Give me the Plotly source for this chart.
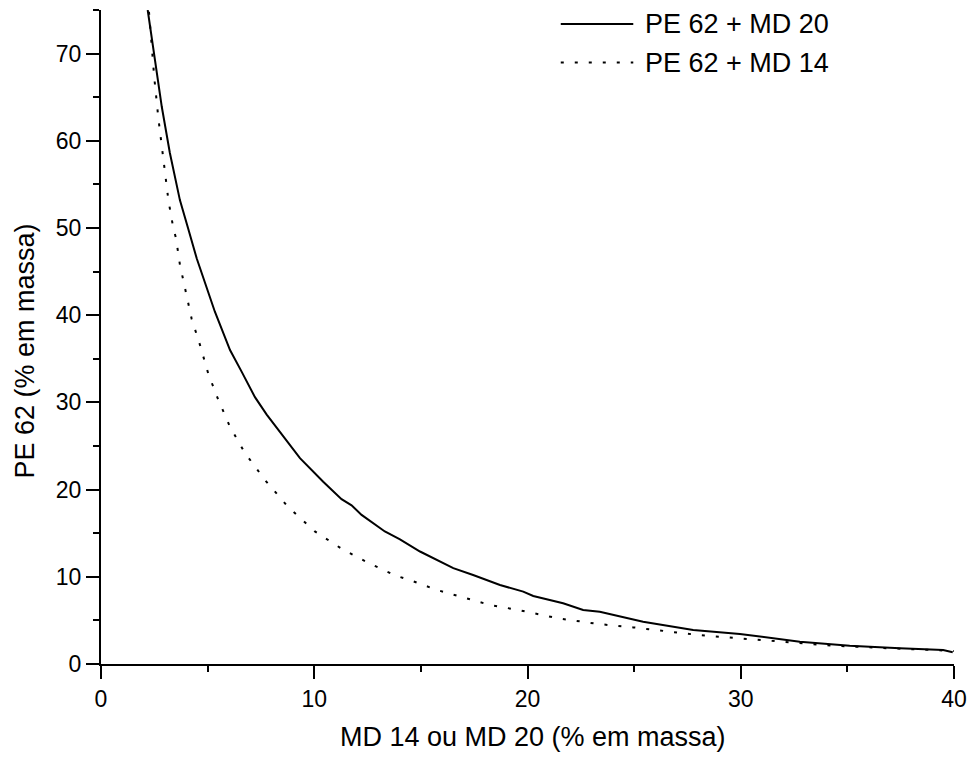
import plotly.graph_objects as go

# ---- data ----
md20_x = [2.19, 2.48, 2.85, 3.23, 3.70, 4.08, 4.49, 5.34, 6.05, 6.60, 7.22, 7.77, 8.47, 9.33,
          10.42, 11.28, 11.75, 12.22, 13.31, 14.02, 14.96, 16.52, 17.45, 18.71, 19.80, 20.27,
          21.67, 22.61, 23.39, 25.42, 27.77, 29.96, 32.77, 35.11, 37.46, 39.49, 39.94]
md20_y = [75.0, 70.0, 63.9, 58.6, 53.2, 50.0, 46.5, 40.4, 36.0, 33.5, 30.6, 28.6, 26.3, 23.6,
          20.9, 18.9, 18.2, 17.1, 15.2, 14.3, 12.9, 11.0, 10.2, 9.06, 8.3, 7.8,
          6.96, 6.2, 6.0, 4.85, 3.9, 3.44, 2.56, 2.1, 1.8, 1.6, 1.34]

md14_x = [2.25, 2.41, 2.50, 2.69, 2.92, 3.16, 3.39, 3.52, 3.70, 3.98, 4.25, 4.64, 5.03, 5.50,
          6.05, 6.75, 7.69, 8.78, 10.03, 11.36, 12.61, 13.86, 14.57, 15.74, 17.07, 18.24,
          19.56, 21.44, 23.31, 24.96, 28.10, 31.20, 34.30, 37.00, 40.00]
md14_y = [74.8, 70.0, 67.2, 62.6, 58.0, 53.2, 50.0, 48.8, 45.8, 42.7, 39.6, 36.6, 33.3, 30.3,
          27.2, 24.2, 21.1, 18.0, 15.2, 13.1, 11.5, 10.1, 9.55, 8.5, 7.6, 6.77,
          6.2, 5.24, 4.59, 4.2, 3.3, 2.67, 2.1, 1.8, 1.5]

series_names = ["PE 62 + MD 20", "PE 62 + MD 14"]
x_title = "MD 14 ou MD 20 (% em massa)"
y_title = "PE 62 (% em massa)"

FONT = "Liberation Sans, Arial, sans-serif"
DOT = "3px,11px"

fig = go.Figure()
fig.add_trace(go.Scatter(x=md20_x, y=md20_y, mode="lines", name=series_names[0],
                         line=dict(color="black", width=2), showlegend=False))
fig.add_trace(go.Scatter(x=md14_x, y=md14_y, mode="lines", name=series_names[1],
                         line=dict(color="black", width=2, dash=DOT), showlegend=False))

axis_common = dict(showline=True, linecolor="black", linewidth=2, ticks="outside",
                   ticklen=13, tickwidth=2, tickcolor="black", showgrid=False,
                   zeroline=False, automargin=False,
                   tickfont=dict(family=FONT, size=23, color="black"))

fig.update_xaxes(range=[0, 40], dtick=10, tick0=0,
                 minor=dict(dtick=5, ticks="outside", ticklen=6, tickwidth=2, tickcolor="black"),
                 **axis_common)
fig.update_yaxes(range=[0, 75], dtick=10, tick0=0,
                 minor=dict(dtick=5, ticks="outside", ticklen=6, tickwidth=2, tickcolor="black"),
                 **axis_common)

# manual legend
leg_rows = [(0.9786, "solid"), (0.9197, DOT)]
for (yy, dash), name in zip(leg_rows, series_names):
    fig.add_shape(type="line", xref="paper", yref="paper", x0=0.539, x1=0.624, y0=yy, y1=yy,
                  line=dict(color="black", width=2, dash=dash))
    fig.add_annotation(xref="paper", yref="paper", x=0.6354, y=yy, text=name, showarrow=False,
                       xanchor="left", yanchor="middle",
                       font=dict(family=FONT, size=27, color="black"))

fig.add_annotation(xref="paper", yref="paper", x=0.506, y=-0.111, text=x_title,
                   showarrow=False, xanchor="center", yanchor="middle",
                   font=dict(family=FONT, size=27, color="black"))
fig.add_annotation(xref="paper", yref="paper", x=-0.089, y=0.478, text=y_title,
                   showarrow=False, xanchor="center", yanchor="middle", textangle=-90,
                   font=dict(family=FONT, size=27, color="black"))

fig.update_layout(width=970, height=759, margin=dict(l=101, r=16, t=10, b=95),
                  paper_bgcolor="white", plot_bgcolor="white",
                  font=dict(family=FONT, color="black"))

fig.write_html("out.html")
